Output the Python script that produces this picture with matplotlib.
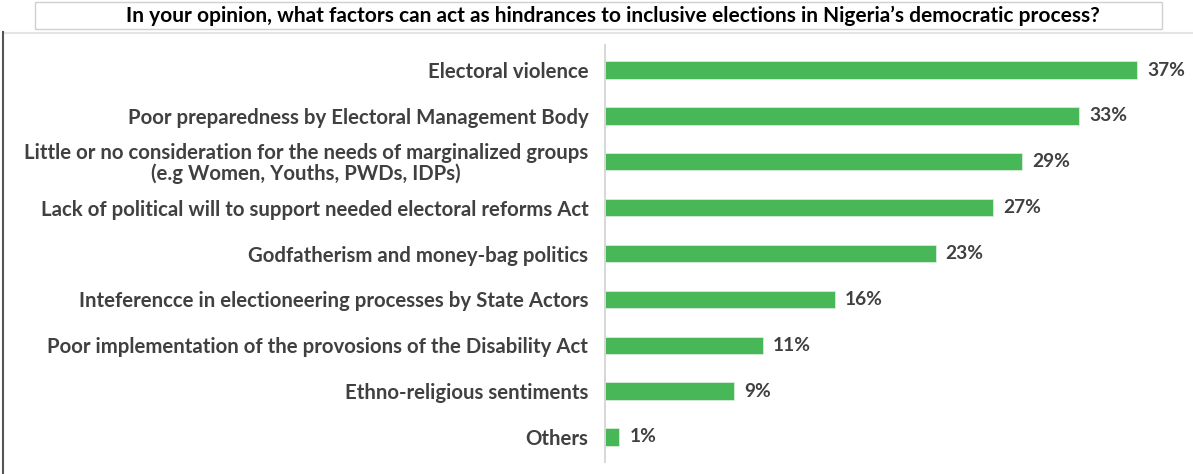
import matplotlib
matplotlib.use("Agg")
import matplotlib.pyplot as plt
from matplotlib.patches import Rectangle
from matplotlib.lines import Line2D

categories = [
    "Electoral violence",
    "Poor preparedness by Electoral Management Body",
    "Little or no consideration for the needs of marginalized groups\n(e.g Women, Youths, PWDs, IDPs)",
    "Lack of political will to support needed electoral reforms Act",
    "Godfatherism and money-bag politics",
    "Inteferencce in electioneering processes by State Actors",
    "Poor implementation of the provosions of the Disability Act",
    "Ethno-religious sentiments",
    "Others",
]
values = [37, 33, 29, 27, 23, 16, 11, 9, 1]
value_labels = ["37%", "33%", "29%", "27%", "23%", "16%", "11%", "9%", "1%"]
title = "In your opinion, what factors can act as hindrances to inclusive elections in Nigeria\u2019s democratic process?"

W, H = 1193, 474
fig = plt.figure(figsize=(W / 100, H / 100), dpi=100)
fig.patch.set_facecolor("white")

FONT = ["Lato", "DejaVu Sans"]
GREEN = "#47b757"
TEXT = "#404040"

ax = fig.add_axes([605 / W, 1 - 462 / H, (1180 - 605) / W, (462 - 45) / H])
ypos = list(range(len(categories)))
ax.barh(ypos, values, height=0.38, color=GREEN, edgecolor="#d8eedb", linewidth=0.6)
ax.set_xlim(0, 40)
ax.set_ylim(len(categories) - 0.455, -0.545)

for y, v, lab in zip(ypos, values, value_labels):
    ax.text(v + 0.7, y, lab, va="center", ha="left", fontsize=13.8,
            fontweight="bold", color=TEXT, family=FONT)

ax.set_yticks(ypos)
ax.set_yticklabels(categories, fontsize=14.7, fontweight="bold", color=TEXT,
                   family=FONT, multialignment="center", linespacing=1.0)
ax.tick_params(axis="y", length=0, pad=12)
ax.set_xticks([])
for side in ("top", "right", "bottom"):
    ax.spines[side].set_visible(False)
ax.spines["left"].set_color("#d4d4d4")
ax.spines["left"].set_linewidth(1.3)

# title box
fig.add_artist(Rectangle((35 / W, 1 - 29 / H), (1162 - 35) / W, 27 / H,
                         transform=fig.transFigure, facecolor="white",
                         edgecolor="#d0d0d0", linewidth=1.0))
fig.text(613 / W, 1 - 16 / H, title, ha="center", va="center", fontsize=15,
         fontweight="bold", color="black", family=FONT)

# outer frame lines
fig.add_artist(Line2D([3 / W, 1], [1 - 32.5 / H, 1 - 32.5 / H],
                      transform=fig.transFigure, color="#e4e4e4", linewidth=1.5))
fig.add_artist(Line2D([2.5 / W, 2.5 / W], [0, 1 - 32 / H],
                      transform=fig.transFigure, color="#555555", linewidth=1.5))

fig.savefig("out.png", dpi=100, facecolor="white")
